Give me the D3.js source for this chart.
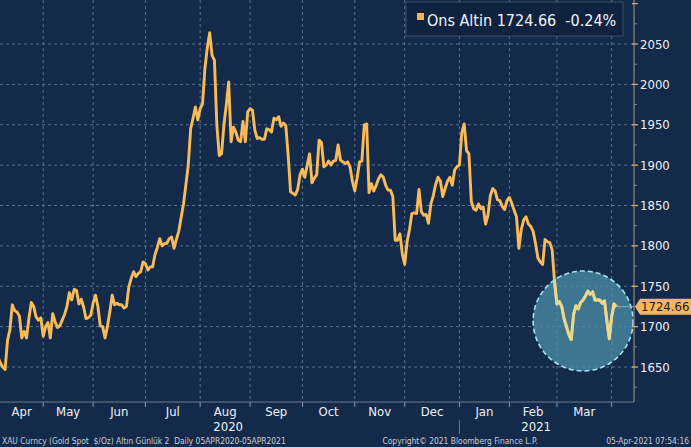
<!DOCTYPE html>
<html>
<head>
<meta charset="utf-8">
<script src="https://cdn.jsdelivr.net/npm/d3@7"></script>
<style>
  html, body { margin: 0; padding: 0; background: #142a4a; }
  svg { display: block; }
  text { font-family: "DejaVu Sans Condensed", "DejaVu Sans", sans-serif; }
</style>
</head>
<body>
<svg id="chart" width="691" height="447"></svg>
<script>
// ---------------- DATA ----------------
// Trading day 0 = 06-Apr-2020 ... 260 = 05-Apr-2021 (weekdays)
const seriesName = "Ons Altin";
const lastPrice = 1724.66;
const changePct = -0.24;

const price = [
  1662,1655,1650,1647,1683,1696,1727,1720,1718,1713,
  1686,1694,1686,1710,1730,1725,1712,1708,1711,1688,
  1700,1705,1686,1716,1706,1699,1701,1708,1715,1725,
  1742,1733,1746,1745,1728,1734,1724,1710,1711,1714,
  1729,1739,1725,1701,1700,1686,1700,1718,1739,1727,
  1729,1727,1727,1723,1725,1749,1760,1768,1762,1766,
  1768,1780,1778,1770,1774,1774,1789,1798,1809,1800,
  1803,1803,1809,1811,1797,1808,1818,1835,1852,1876,
  1900,1945,1958,1972,1956,1970,1976,2020,2045,2064,
  2036,2030,1950,1912,1914,1950,1975,2003,1929,1947,
  1941,1931,1929,1954,1929,1966,1970,1968,1943,1933,
  1934,1932,1932,1945,1944,1941,1958,1956,1960,1948,
  1952,1949,1912,1867,1865,1863,1870,1888,1895,1885,
  1900,1914,1878,1884,1888,1931,1928,1898,1900,1905,
  1900,1905,1906,1925,1906,1904,1902,1904,1898,1880,
  1868,1884,1904,1905,1950,1951,1866,1877,1868,1875,
  1883,1888,1885,1875,1869,1869,1861,1807,1807,1815,
  1790,1777,1805,1820,1840,1841,1840,1870,1842,1838,
  1839,1828,1852,1862,1876,1885,1880,1861,1871,1880,
  1885,1875,1894,1898,1900,1940,1951,1918,1914,1855,
  1846,1844,1852,1846,1848,1827,1838,1862,1871,1868,
  1857,1856,1849,1845,1856,1860,1853,1844,1836,1797,
  1820,1832,1836,1827,1824,1818,1803,1785,1780,1777,
  1808,1805,1804,1795,1755,1728,1731,1725,1710,1700,
  1690,1684,1715,1726,1722,1730,1733,1738,1744,1740,
  1743,1733,1733,1733,1729,1732,1707,1685,1712,1728,
  1724.66
];

// first trading day of each month (index into price)
const monthStart = [-3, 19, 40, 62, 85, 106, 128, 150, 171, 194, 215, 235, 258];
const monthLabels = ["Apr","May","Jun","Jul","Aug","Sep","Oct","Nov","Dec","Jan","Feb","Mar"];
const yearLabels = [{label: "2020", month: 4}, {label: "2021", month: 10}];
const yearBreakMonth = 9; // Jan 2021
const yMajorTicks = [1650,1700,1750,1800,1850,1900,1950,2000,2050,2100];
const yMinorTicks = [1625,1675,1725,1775,1825,1875,1925,1975,2025,2075];
const gridValues = [1650,1700,1750,1800,1850,1900,1950,2000,2050];
// highlight circle around March 2021
const highlight = {day: 246, value: 1707, radiusPx: 50};

const footerLeft = "XAU Curncy (Gold Spot  $/Oz) Altın Günlük 2  Daily 05APR2020-05APR2021";
const footerMid = "Copyright© 2021 Bloomberg Finance L.P.";
const footerRight = "05-Apr-2021 07:54:16";

// ---------------- LAYOUT ----------------
const W = 691, H = 447;
const plot = {left: 0, right: 634, top: 0, bottom: 402};
const svg = d3.select("#chart");

const x = d3.scaleLinear().domain([0, 260]).range([-2, 616.4]);
const y = d3.scaleLinear().domain([1650, 2050]).range([367, 44]);

svg.append("rect").attr("width", W).attr("height", H).attr("fill", "#142a4a");

svg.append("defs").append("clipPath").attr("id", "plotClip")
  .append("rect").attr("x", plot.left).attr("y", plot.top)
  .attr("width", plot.right - plot.left).attr("height", plot.bottom - plot.top);

const cx = x(highlight.day), cy = y(highlight.value);
svg.select("defs").append("clipPath").attr("id", "circClip")
  .append("circle").attr("cx", cx).attr("cy", cy).attr("r", highlight.radiusPx);

// grid
const grid = svg.append("g").attr("clip-path", "url(#plotClip)");
grid.selectAll("line.h").data(gridValues).join("line")
  .attr("x1", plot.left).attr("x2", plot.right)
  .attr("y1", d => y(d)).attr("y2", d => y(d))
  .attr("stroke", "#5b7090").attr("stroke-width", 1).attr("stroke-dasharray", "3,3");
grid.selectAll("line.v").data(monthStart.slice(1)).join("line")
  .attr("x1", d => x(d)).attr("x2", d => x(d))
  .attr("y1", plot.top).attr("y2", plot.bottom)
  .attr("stroke", "#5b7090").attr("stroke-width", 1).attr("stroke-dasharray", "3,3");

// highlight circle fill
svg.append("circle").attr("cx", cx).attr("cy", cy).attr("r", highlight.radiusPx)
  .attr("fill", "#4a8aa5").attr("fill-opacity", 0.78);

// line
const line = d3.line().x((d, i) => x(i)).y(d => y(d));
svg.append("g").attr("clip-path", "url(#plotClip)")
  .append("path").datum(price).attr("d", line)
  .attr("fill", "none").attr("stroke", "#f9bb58").attr("stroke-width", 2.9)
  .attr("stroke-linejoin", "round");
svg.append("g").attr("clip-path", "url(#circClip)")
  .append("path").datum(price).attr("d", line)
  .attr("fill", "none").attr("stroke", "#e8d992").attr("stroke-width", 2.9)
  .attr("stroke-linejoin", "round");

// circle dashed outline
svg.append("circle").attr("cx", cx).attr("cy", cy).attr("r", highlight.radiusPx)
  .attr("fill", "none").attr("stroke", "#a6e2f2").attr("stroke-width", 1.6)
  .attr("stroke-dasharray", "5,3");

// bottom axis line
svg.append("line").attr("x1", plot.left).attr("x2", plot.right)
  .attr("y1", plot.bottom).attr("y2", plot.bottom)
  .attr("stroke", "#6a7a90").attr("stroke-width", 1);

// month ticks
svg.selectAll("line.mt").data(monthStart.slice(1)).join("line")
  .attr("x1", d => x(d)).attr("x2", d => x(d))
  .attr("y1", plot.bottom).attr("y2", plot.bottom + 5)
  .attr("stroke", "#8a96a8").attr("stroke-width", 1);

// month labels
const monthCenters = monthLabels.map((m, i) => {
  const a = Math.max(x(monthStart[i]), plot.left);
  const b = Math.min(x(monthStart[i + 1]), plot.right);
  return (a + b) / 2;
});
svg.selectAll("text.month").data(monthLabels).join("text")
  .attr("x", (d, i) => monthCenters[i]).attr("y", 416)
  .attr("text-anchor", "middle").attr("fill", "#eef1f5").attr("font-size", 13)
  .text(d => d);
svg.selectAll("text.year").data(yearLabels).join("text")
  .attr("x", d => monthCenters[d.month] + 3).attr("y", 431)
  .attr("text-anchor", "middle").attr("fill", "#eef1f5").attr("font-size", 13)
  .text(d => d.label);
svg.append("line")
  .attr("x1", x(monthStart[yearBreakMonth])).attr("x2", x(monthStart[yearBreakMonth]))
  .attr("y1", 420).attr("y2", 434).attr("stroke", "#6a7a90").attr("stroke-width", 1);

// right axis
svg.append("line").attr("x1", plot.right).attr("x2", plot.right)
  .attr("y1", plot.top).attr("y2", plot.bottom)
  .attr("stroke", "#8e8a7e").attr("stroke-width", 1.2);
svg.selectAll("line.ymaj").data(yMajorTicks).join("line")
  .attr("x1", plot.right - 2).attr("x2", plot.right + 4)
  .attr("y1", d => y(d)).attr("y2", d => y(d))
  .attr("stroke", "#e0aa55").attr("stroke-width", 1.3);
svg.selectAll("line.ymin").data(yMinorTicks).join("line")
  .attr("x1", plot.right).attr("x2", plot.right + 3)
  .attr("y1", d => y(d)).attr("y2", d => y(d))
  .attr("stroke", "#8e8a7e").attr("stroke-width", 1);
svg.selectAll("text.ylab").data(yMajorTicks.filter(d => d <= 2050)).join("text")
  .attr("x", plot.right + 6).attr("y", d => y(d)).attr("dy", "0.35em")
  .attr("fill", "#eef1f5").attr("font-size", 13)
  .text(d => d);

// last price connector + tag
const lastIdx = price.length - 1;
const ly = y(lastPrice);
svg.append("line").attr("x1", x(lastIdx)).attr("x2", plot.right)
  .attr("y1", ly).attr("y2", ly).attr("stroke", "#a0a8b4").attr("stroke-width", 1);
const tagH = 16;
svg.append("path")
  .attr("d", `M${plot.right + 1},${ly} L${plot.right + 6},${ly - tagH/2} L${W},${ly - tagH/2} L${W},${ly + tagH/2} L${plot.right + 6},${ly + tagH/2} Z`)
  .attr("fill", "#f4b65c");
svg.append("text").attr("x", plot.right + 7).attr("y", ly).attr("dy", "0.36em")
  .attr("fill", "#1a1a1a").attr("font-size", 13).text(lastPrice.toFixed(2));

// legend
const lg = svg.append("g");
lg.append("rect").attr("x", 406).attr("y", 2).attr("width", 217).attr("height", 34)
  .attr("fill", "#0f2341").attr("stroke", "#3a4f6a").attr("stroke-width", 1);
lg.append("rect").attr("x", 417).attr("y", 13).attr("width", 7).attr("height", 7)
  .attr("fill", "#f6b450");
lg.append("text").attr("x", 427).attr("y", 26)
  .attr("fill", "#f2f4f7").attr("font-size", 16)
  .style("font-family", '"Liberation Sans Narrow", "DejaVu Sans Condensed", sans-serif')
  .style("white-space", "pre")
  .text(`${seriesName} ${lastPrice.toFixed(2)}  ${changePct.toFixed(2)}%`);

// footer
const ft = svg.append("g").attr("fill", "#c9ced6").attr("font-size", 8.4);
ft.append("text").attr("x", 2).attr("y", 444).text(footerLeft).style("white-space", "pre");
ft.append("text").attr("x", 460).attr("y", 444).attr("text-anchor", "middle").text(footerMid);
ft.append("text").attr("x", 689).attr("y", 444).attr("text-anchor", "end").text(footerRight);
</script>
</body>
</html>
